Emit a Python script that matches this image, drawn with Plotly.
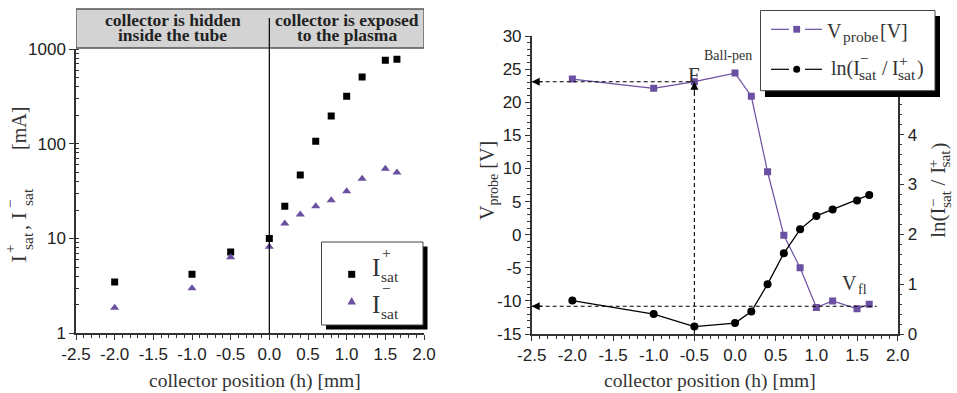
import plotly.graph_objects as go

W, H = 957, 393

# ---------------- data ----------------
position = [-2.0, -1.0, -0.5, 0.0, 0.2, 0.4, 0.6, 0.8, 1.0, 1.2, 1.5, 1.65]
i_sat_pos = [3.47, 4.2, 7.2, 10.0, 21.9, 46.7, 106, 196, 318, 507, 760, 780]
i_sat_neg = [1.86, 2.98, 6.35, 8.2, 14.4, 17.9, 21.9, 25.3, 31.5, 42.8, 54.6, 49.9]
v_probe = [23.5, 22.1, 23.1, 24.4, 20.9, 9.5, -0.1, -5.0, -11.0, -10.0, -11.2, -10.5]
ln_ratio = [0.67, 0.40, 0.15, 0.22, 0.45, 1.0, 1.62, 2.10, 2.37, 2.50, 2.68, 2.79]

x_tickvals = [-2.5, -2.0, -1.5, -1.0, -0.5, 0.0, 0.5, 1.0, 1.5, 2.0]
x_ticktext = ["-2.5", "-2.0", "-1.5", "-1.0", "-0.5", "0.0", "0.5", "1.0", "1.5", "2.0"]
i_tickvals = [1, 10, 100, 1000]
i_ticktext = ["1", "10", "100", "1000"]
v_tickvals = [-15, -10, -5, 0, 5, 10, 15, 20, 25, 30]
v_ticktext = ["-15", "-10", "-5", "0", "5", "10", "15", "20", "25", "30"]
ln_tickvals = [0, 1, 2, 3, 4, 5]
ln_ticktext = ["0", "1", "2", "3", "4", "5"]

f_ballpen_x = -0.5          # position where the ball-pen floating potential is read
f_ballpen_v = v_probe[2]    # V_probe at that position
v_fl = -10.8                # floating potential level

# ---------------- style ----------------
PURPLE = "#6B4FA0"
AX = "#333333"
TXT = "#222222"
SANS = "Liberation Sans, Arial, sans-serif"
SERIF = "Liberation Serif, Times New Roman, serif"


def px(x):
    return x / W


def py(y):
    return 1 - y / H


fig = go.Figure()

# left panel
fig.add_trace(go.Scatter(x=position, y=i_sat_pos, mode="markers", xaxis="x", yaxis="y",
                         marker=dict(symbol="square", size=7, color="black"), showlegend=False))
fig.add_trace(go.Scatter(x=position, y=i_sat_neg, mode="markers", xaxis="x", yaxis="y",
                         marker=dict(symbol="triangle-up", size=8, color=PURPLE), showlegend=False))
# right panel
fig.add_trace(go.Scatter(x=position, y=v_probe, mode="lines+markers", xaxis="x2", yaxis="y2",
                         line=dict(color=PURPLE, width=1.2),
                         marker=dict(symbol="square", size=7, color=PURPLE), showlegend=False))
fig.add_trace(go.Scatter(x=position, y=ln_ratio, mode="lines+markers", xaxis="x2", yaxis="y3",
                         line=dict(color="black", width=1.3),
                         marker=dict(symbol="circle", size=8, color="black"), showlegend=False))

xcommon = dict(range=[-2.5, 2.0], tickvals=x_tickvals, ticktext=x_ticktext,
               showgrid=False, zeroline=False, showline=True, linecolor=AX, linewidth=1.5,
               ticks="outside", ticklen=5, tickwidth=1.2, tickcolor=AX,
               tickfont=dict(family=SANS, size=17, color=TXT),
               minor=dict(dtick=0.1, tick0=0, ticks="outside", ticklen=3, tickcolor=AX, tickwidth=1))

fig.update_layout(
    width=W, height=H, autosize=False,
    margin=dict(l=0, r=0, t=0, b=0, pad=0, autoexpand=False),
    paper_bgcolor="white", plot_bgcolor="white",
    showlegend=False,
    xaxis=dict(domain=[px(76), px(424)], anchor="y", **xcommon),
    yaxis=dict(domain=[py(333.3), py(49)], anchor="x", type="log", range=[0, 3],
               tickvals=i_tickvals, ticktext=i_ticktext,
               showgrid=False, zeroline=False, showline=True, linecolor=AX, linewidth=1.5,
               ticks="outside", ticklen=5, tickwidth=1.2, tickcolor=AX,
               tickfont=dict(family=SANS, size=17, color=TXT),
               minor=dict(dtick="D1", ticks="inside", ticklen=3, tickcolor=AX, tickwidth=1)),
    xaxis2=dict(domain=[px(531.7), px(897.7)], anchor="y2", **xcommon),
    yaxis2=dict(domain=[py(334), py(36)], anchor="x2", range=[-15, 30],
                tickvals=v_tickvals, ticktext=v_ticktext,
                showgrid=False, zeroline=False, showline=True, linecolor=AX, linewidth=1.5,
                ticks="outside", ticklen=5, tickwidth=1.2, tickcolor=AX,
                tickfont=dict(family=SANS, size=17, color=TXT),
                minor=dict(dtick=1, ticks="outside", ticklen=3, tickcolor=AX, tickwidth=1)),
    yaxis3=dict(overlaying="y2", side="right", anchor="x2", range=[0, 5.98],
                tickvals=ln_tickvals, ticktext=ln_ticktext,
                showgrid=False, zeroline=False, showline=True, linecolor=AX, linewidth=1.5,
                ticks="outside", ticklen=5, tickwidth=1.2, tickcolor=AX,
                tickfont=dict(family=SANS, size=17, color=TXT),
                minor=dict(dtick=0.2, ticks="outside", ticklen=3, tickcolor=AX, tickwidth=1)),
)

shapes = []
ann = []

# ---- header boxes over left panel ----
shapes.append(dict(type="rect", xref="x", yref="paper", x0=-2.5, x1=2.0, y0=py(48), y1=py(9),
                   fillcolor="#D3D3D3", line=dict(color="#555555", width=1.3), layer="above"))
shapes.append(dict(type="line", xref="x", yref="paper", x0=0, x1=0, y0=py(333.3), y1=py(18),
                   line=dict(color="black", width=1.2), layer="above"))
for txt, xc, yc in [("collector is hidden", -1.25, 19.8), ("inside the tube", -1.25, 35.4),
                    ("collector is exposed", 1.0, 19.8), ("to the plasma", 1.0, 35.4)]:
    ann.append(dict(text=txt, xref="x", yref="paper", x=xc, y=py(yc), showarrow=False,
                    xanchor="center", yanchor="middle",
                    font=dict(family=SERIF, size=17.5, color=TXT, weight="bold")))

# ---- dashed guide lines on right panel ----
dash = dict(color="black", width=1.1, dash="4px,3px")
shapes.append(dict(type="line", xref="x2", yref="y2", x0=-2.5, x1=f_ballpen_x, y0=f_ballpen_v, y1=f_ballpen_v, line=dash))
shapes.append(dict(type="line", xref="x2", yref="y2", x0=f_ballpen_x, x1=f_ballpen_x, y0=-15, y1=f_ballpen_v, line=dash))
shapes.append(dict(type="line", xref="x2", yref="y2", x0=-2.5, x1=1.74, y0=v_fl, y1=v_fl, line=dash))
for (xa, ya, axp, ayp) in [(-2.5, f_ballpen_v, 12, 0), (f_ballpen_x, f_ballpen_v, 0, 12), (-2.5, v_fl, 12, 0)]:
    ann.append(dict(text="", xref="x2", yref="y2", x=xa, y=ya, ax=axp, ay=ayp, showarrow=True,
                    arrowhead=2, arrowsize=1.6, arrowwidth=1, arrowcolor="black", standoff=0))

# ---- text labels ----
def label(text, xc, yc, size, family=SERIF, angle=0, xanchor="center", color="#333333"):
    ann.append(dict(text=text, xref="paper", yref="paper", x=px(xc), y=py(yc), showarrow=False,
                    xanchor=xanchor, yanchor="middle", textangle=angle,
                    font=dict(family=family, size=size, color=color)))

label("F", 694, 75, 21)
label("Ball-pen", 702, 55.3, 14, xanchor="left")
label("V", 849, 283.3, 20)
label("fl", 862, 289.3, 14)

# ---- axis titles ----
label("collector position (h) [mm]", 255, 381, 19.5)
label("collector position (h) [mm]", 709.5, 381, 19.5)
# left panel y title (rotated)
label("[mA]", 19, 129, 20, angle=-90)
label("I", 18, 259.5, 22, angle=-90)
label("+", 10, 249, 15, angle=-90)
label("sat", 27, 241, 15.5, angle=-90)
label(",", 21, 228, 20, angle=-90)
label("I", 18, 216.5, 22, angle=-90)
label("−", 10, 204, 15, angle=-90)
label("sat", 27, 197, 15.5, angle=-90)
# right panel left title
label("V<sub>probe</sub> [V]", 488, 181, 20, angle=-90)
# right panel right title
label("ln(I", 938, 222.8, 21, angle=-90)
label("sat", 945, 199.1, 15.5, angle=-90)
label("−", 933, 203, 15, angle=-90)
label("/", 938, 182.4, 21, angle=-90)
label("I", 938, 170.7, 21, angle=-90)
label("sat", 945, 158.6, 15.5, angle=-90)
label("+", 933, 164, 15, angle=-90)
label(")", 938, 146.5, 21, angle=-90)

# ---- left legend ----
shapes.append(dict(type="rect", xref="paper", yref="paper", x0=px(326), x1=px(427.5), y0=py(329.5), y1=py(246.5),
                   fillcolor="black", line=dict(width=0), layer="above"))
shapes.append(dict(type="rect", xref="paper", yref="paper", x0=px(321.5), x1=px(423), y0=py(325), y1=py(242),
                   fillcolor="white", line=dict(color="#444444", width=1), layer="above"))
shapes.append(dict(type="rect", xref="paper", yref="paper", x0=px(348.2), x1=px(355.2), y0=py(277.8), y1=py(270.8),
                   fillcolor="black", line=dict(width=0), layer="above"))
shapes.append(dict(type="path", xref="paper", yref="paper",
                   path=f"M {px(347.5)},{py(304.5)} L {px(355.9)},{py(304.5)} L {px(351.7)},{py(297)} Z",
                   fillcolor=PURPLE, line=dict(width=0), layer="above"))
label("I", 375.8, 267.5, 25)
label("sat", 390, 276.5, 15.5)
label("+", 386.5, 252.3, 15.5)
label("I", 375.8, 304.1, 25)
label("sat", 390, 313.1, 15.5)
label("−", 386.5, 288.5, 15.5)

# ---- right legend ----
shapes.append(dict(type="rect", xref="paper", yref="paper", x0=px(765), x1=px(940), y0=py(97), y1=py(16),
                   fillcolor="black", line=dict(width=0), layer="above"))
shapes.append(dict(type="rect", xref="paper", yref="paper", x0=px(760.5), x1=px(935), y0=py(90.7), y1=py(10.5),
                   fillcolor="white", line=dict(color="#444444", width=1), layer="above"))
for yy, col in [(29.3, PURPLE), (69.3, "black")]:
    for (a, b) in [(771, 789), (805, 822)]:
        shapes.append(dict(type="line", xref="paper", yref="paper", x0=px(a), x1=px(b), y0=py(yy), y1=py(yy),
                           line=dict(color=col, width=1.2), layer="above"))
shapes.append(dict(type="rect", xref="paper", yref="paper", x0=px(793.3), x1=px(800.1), y0=py(32.7), y1=py(25.9),
                   fillcolor=PURPLE, line=dict(width=0), layer="above"))
shapes.append(dict(type="circle", xref="paper", yref="paper", x0=px(793.2), x1=px(800.2), y0=py(72.8), y1=py(65.8),
                   fillcolor="black", line=dict(width=0), layer="above"))
label("V", 834.7, 31.5, 20)
label("probe", 860.8, 36.8, 15.5)
label("[V]", 894.2, 31.5, 20)
label("ln(I", 845.8, 68.3, 20)
label("sat", 868.3, 74.8, 15.5)
label("−", 864.2, 58.6, 15.5)
label("/", 885, 68.3, 20)
label("I", 895.5, 68.3, 20)
label("+", 903.3, 60.3, 15.5)
label("sat", 907.3, 74.8, 15.5)
label(")", 920, 68.3, 20)

fig.update_layout(shapes=shapes, annotations=ann)
fig.write_html("out.html",
               config={"displayModeBar": False},
               post_script="document.body.style.margin='0';document.body.style.padding='0';"
                           "document.body.style.overflow='hidden';")
